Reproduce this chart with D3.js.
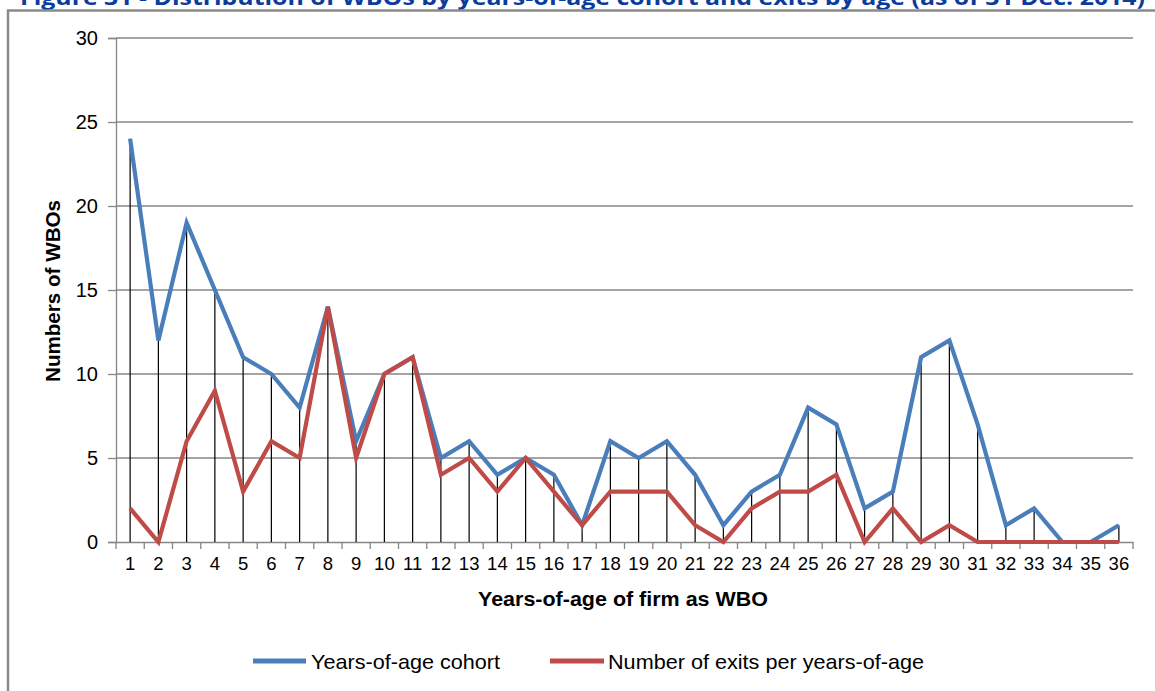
<!DOCTYPE html>
<html>
<head>
<meta charset="utf-8">
<script src="https://cdn.jsdelivr.net/npm/d3@7"></script>
<style>
  html, body { margin: 0; padding: 0; background: #fff; }
  svg { display: block; }
  text { font-family: "Liberation Sans", Arial, sans-serif; }
</style>
</head>
<body>
<svg id="chart" width="1155" height="691"></svg>
<script>
const categories = d3.range(1, 37).map(String);
const cohortValues = [24,12,19,15,11,10,8,14,6,10,11,5,6,4,5,4,1,6,5,6,4,1,3,4,8,7,2,3,11,12,7,1,2,0,0,1];
const exitValues   = [2,0,6,9,3,6,5,14,5,10,11,4,5,3,5,3,1,3,3,3,1,0,2,3,3,4,0,2,0,1,0,0,0,0,0,0];
const yTicks = [0,5,10,15,20,25,30];
const seriesNames = ["Years-of-age cohort", "Number of exits per years-of-age"];
const titleText = "Figure 31 - Distribution of WBOs by years-of-age cohort and exits by age (as of 31 Dec. 2014)";

(function () {
const svg = d3.select("#chart");
const W = 1155, H = 691;
const pLeft = 116, pRight = 1133, pTop = 38, pBottom = 542;

// title (cropped at top, as in the source)
svg.append("text")
  .attr("x", 20).attr("y", 5)
  .attr("textLength", 1125).attr("lengthAdjust", "spacingAndGlyphs")
  .style("font-family", "'Open Sans', 'Noto Sans', sans-serif")
  .style("font-weight", "bold").style("font-size", "22px")
  .attr("fill", "#0b3c9c")
  .text(titleText);

// outer frame
svg.append("path")
  .attr("d", `M8,${H} L8,10.5 L${W},10.5`)
  .attr("fill", "none").attr("stroke", "#8a8a8a").attr("stroke-width", 2.5);

const x = d3.scaleBand().domain(categories).range([pLeft, pRight]);
const y = d3.scaleLinear().domain([0, 30]).range([pBottom, pTop]);

// gridlines
svg.append("g").selectAll("line").data(yTicks.filter(t => t > 0)).join("line")
  .attr("x1", pLeft).attr("x2", pRight)
  .attr("y1", d => y(d)).attr("y2", d => y(d))
  .attr("stroke", "#868686").attr("stroke-width", 1.3);

// y axis
const yAxis = d3.axisLeft(y).tickValues(yTicks).tickSize(8).tickPadding(10);
const gy = svg.append("g").attr("transform", `translate(${pLeft},0)`).call(yAxis);
gy.select(".domain").attr("stroke", "#868686").attr("stroke-width", 1.3);
gy.selectAll(".tick line").attr("stroke", "#868686").attr("stroke-width", 1.3);
gy.selectAll(".tick text").style("font-size", "20px").style("font-family", "'Liberation Sans', Arial, sans-serif").attr("fill", "#000");

// x axis
const xAxis = d3.axisBottom(x).tickSize(0).tickPadding(15);
const gx = svg.append("g").attr("transform", `translate(0,${pBottom})`).call(xAxis);
gx.select(".domain").attr("stroke", "#868686").attr("stroke-width", 1.3);
gx.selectAll(".tick text").style("font-size", "18.5px").style("font-family", "'Liberation Sans', Arial, sans-serif").attr("fill", "#000");
// x tick marks at band boundaries
svg.append("g").selectAll("line").data(categories.concat(["end"])).join("line")
  .attr("x1", (d, i) => pLeft + i * x.step()).attr("x2", (d, i) => pLeft + i * x.step())
  .attr("y1", pBottom).attr("y2", pBottom + 7)
  .attr("stroke", "#868686").attr("stroke-width", 1.3);

const cx = d => x(d) + x.bandwidth() / 2;

// drop lines
svg.append("g").selectAll("line").data(categories).join("line")
  .attr("x1", cx).attr("x2", cx)
  .attr("y1", (d, i) => y(Math.max(cohortValues[i], exitValues[i])))
  .attr("y2", pBottom)
  .attr("stroke", "#000").attr("stroke-width", 1.2);

const line = d3.line().x(d => cx(d.c)).y(d => y(d.v));
const toPts = vals => categories.map((c, i) => ({c, v: vals[i]}));

svg.append("path").datum(toPts(cohortValues)).attr("d", line)
  .attr("fill", "none").attr("stroke", "#4a7ebb").attr("stroke-width", 4.2).attr("stroke-linejoin", "miter");
svg.append("path").datum(toPts(exitValues)).attr("d", line)
  .attr("fill", "none").attr("stroke", "#be4b48").attr("stroke-width", 4.2).attr("stroke-linejoin", "miter");

// axis titles
svg.append("text")
  .attr("transform", `translate(60,291) rotate(-90)`)
  .attr("text-anchor", "middle")
  .attr("textLength", 182).attr("lengthAdjust", "spacingAndGlyphs")
  .style("font-weight", "bold").style("font-size", "21px")
  .text("Numbers of WBOs");
svg.append("text")
  .attr("x", 623).attr("y", 606)
  .attr("text-anchor", "middle")
  .attr("textLength", 290).attr("lengthAdjust", "spacingAndGlyphs")
  .style("font-weight", "bold").style("font-size", "21px")
  .text("Years-of-age of firm as WBO");

// legend
const legend = [
  {name: seriesNames[0], color: "#4a7ebb", x1: 253, x2: 306, tx: 311, tl: 189},
  {name: seriesNames[1], color: "#be4b48", x1: 550, x2: 604, tx: 608, tl: 316}
];
const lg = svg.append("g");
legend.forEach(l => {
  lg.append("line").attr("x1", l.x1).attr("x2", l.x2).attr("y1", 661).attr("y2", 661)
    .attr("stroke", l.color).attr("stroke-width", 5);
  lg.append("text").attr("x", l.tx).attr("y", 668.5)
    .attr("textLength", l.tl).attr("lengthAdjust", "spacingAndGlyphs")
    .style("font-size", "21px").text(l.name);
});
})();
</script>
</body>
</html>
